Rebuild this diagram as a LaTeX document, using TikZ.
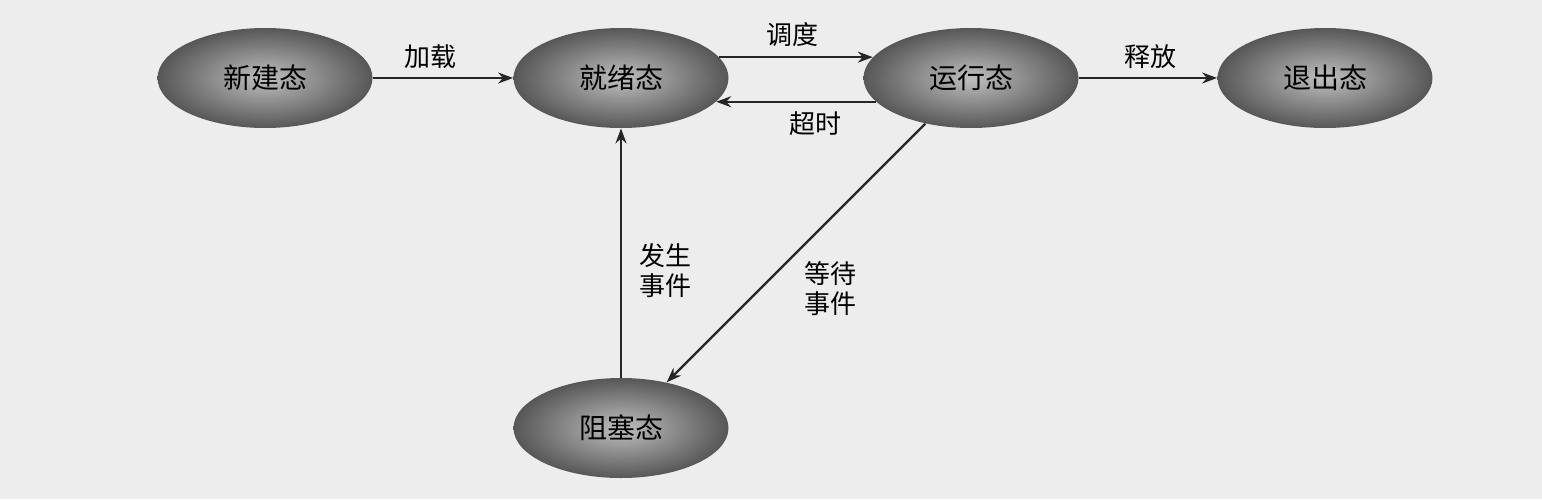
\documentclass[tikz,border=0pt]{standalone}
\usepackage{fontspec}
\newfontfamily\cjk{Noto Sans CJK SC}
\usetikzlibrary{arrows.meta,shapes.geometric}
\begin{document}
\begin{tikzpicture}[x=0.5pt,y=-0.5pt,
  state/.style={ellipse, minimum width=107.5pt, minimum height=50pt, inner sep=0pt,
    inner color=black!25, outer color=black!66, text=black,
    font=\cjk\fontsize{14}{16}\selectfont},
  arr/.style={draw=black!85, line width=1.1pt, -{Stealth[length=7.5pt,width=5.5pt]}},
  lab/.style={font=\cjk\fontsize{13}{15}\selectfont, align=center, inner sep=0pt}]
\fill[black!7] (0,0) rectangle (1542,499);
\useasboundingbox (0,0) rectangle (1542,499);
\node[state] (n) at (265,78) {新建态};
\node[state] (j) at (621,78) {就绪态};
\node[state] (r) at (971,78) {运行态};
\node[state] (e) at (1325,78) {退出态};
\node[state] (b) at (621,428) {阻塞态};
\draw[arr] (n) -- (j);
\draw[arr] (j.12) -- (r.168);
\draw[arr] (r.-166) -- (j.-14);
\draw[arr] (r) -- (e);
\draw[arr] (b.north) -- (j.south);
\draw[arr] (r) -- (b);
\node[lab] (l1) at (430,57) {加载};
\node[lab] (l2) at (792,35) {调度};
\node[lab] (l3) at (815,124) {超时};
\node[lab] (l4) at (1150,57) {释放};
\node[lab] (l5) at (665,271) {发生\\事件};
\node[lab] (l6) at (830,289) {等待\\事件};
\end{tikzpicture}
\end{document}
